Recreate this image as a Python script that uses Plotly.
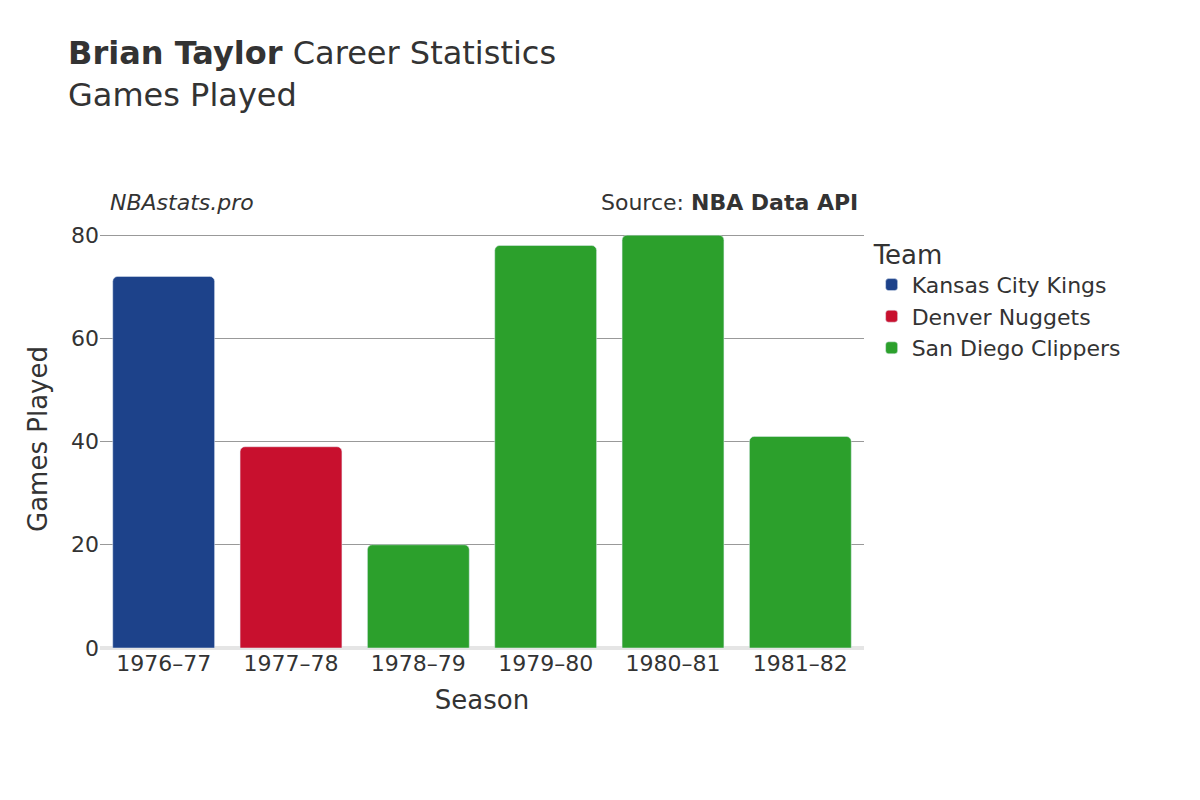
import plotly.graph_objects as go

seasons = ["1976–77", "1977–78", "1978–79", "1979–80", "1980–81", "1981–82"]
games = [72, 39, 20, 78, 80, 41]
teams = ["Kansas City Kings", "Denver Nuggets", "San Diego Clippers", "San Diego Clippers", "San Diego Clippers", "San Diego Clippers"]
team_order = ["Kansas City Kings", "Denver Nuggets", "San Diego Clippers"]
colors = {"Kansas City Kings": "#1D428A", "Denver Nuggets": "#C8102E", "San Diego Clippers": "#2CA02C"}

fig = go.Figure()
for t in team_order:
    xs = [s for s, tm in zip(seasons, teams) if tm == t]
    ys = [g for g, tm in zip(games, teams) if tm == t]
    fig.add_trace(go.Bar(x=xs, y=ys, name=t, marker_color=colors[t], width=0.8))

fig.update_layout(
    width=1200, height=800,
    font=dict(family="DejaVu Sans", size=22, color="#333333"),
    plot_bgcolor="white", paper_bgcolor="white",
    barmode="overlay", barcornerradius=5,
    margin=dict(l=92, r=344, t=222, b=160),
    title=dict(text="<b>Brian Taylor</b> Career Statistics<br>Games Played", x=0.05, xanchor="left", y=0.93, yanchor="top",
               font=dict(size=32, color="#333333")),
    legend=dict(title=dict(text="Team", font=dict(size=26)), x=1.01, y=1.0, yanchor="top", font=dict(size=22)),
    xaxis=dict(title=dict(text="Season", font=dict(size=26)), categoryorder="array", categoryarray=seasons,
               tickfont=dict(size=22), showline=False),
    yaxis=dict(title=dict(text="Games Played", font=dict(size=26)), range=[0, 81], tickvals=[0, 20, 40, 60, 80],
               gridcolor="#999999", gridwidth=1, zeroline=True, zerolinecolor="#e5e5e5", zerolinewidth=4,
               tickfont=dict(size=22)),
    annotations=[
        dict(text="<i>NBAstats.pro</i>", x=0.01, y=1.03, xref="paper", yref="paper", xanchor="left", yanchor="bottom",
             showarrow=False, font=dict(size=22, color="#333333")),
        dict(text="Source: <b>NBA Data API</b>", x=0.995, y=1.03, xref="paper", yref="paper", xanchor="right", yanchor="bottom",
             showarrow=False, font=dict(size=22, color="#333333")),
    ],
)
fig.write_html("out.html")
